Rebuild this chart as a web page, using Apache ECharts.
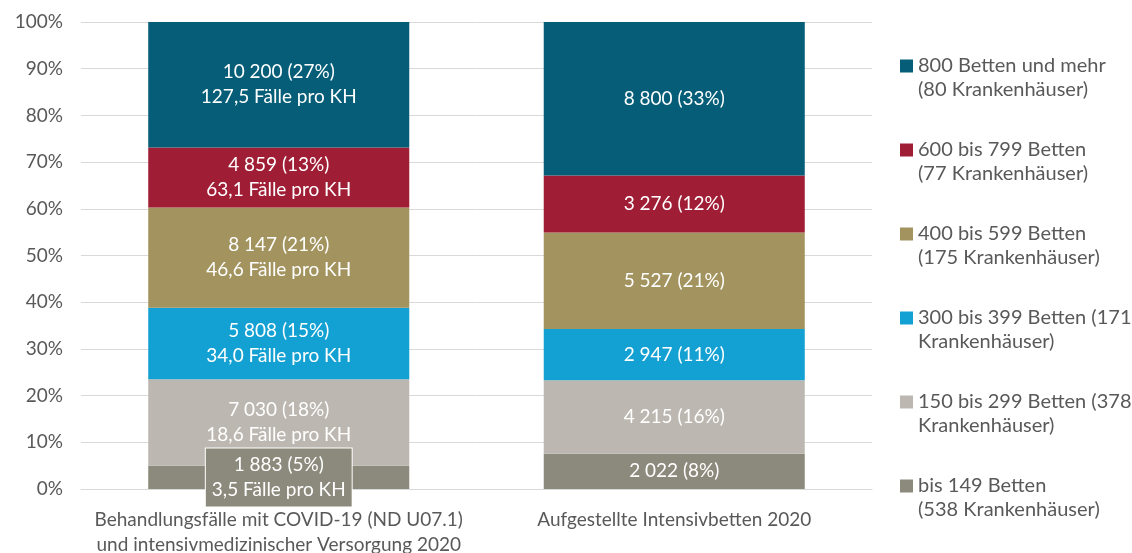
<!DOCTYPE html>
<html>
<head>
<meta charset="utf-8">
<script src="https://cdn.jsdelivr.net/npm/echarts@6/dist/echarts.min.js"></script>
<style>
  html, body { margin: 0; padding: 0; background: #fff; }
  #chart { width: 1132px; height: 553px; }
</style>
</head>
<body>
<div id="chart"></div>
<script>
// categories on the x axis
const categories = [
  "Behandlungsfälle mit COVID-19 (ND U07.1)\nund intensivmedizinischer Versorgung 2020",
  "Aufgestellte Intensivbetten 2020"
];
// size classes, bottom to top
const seriesNames = [
  "bis 149 Betten\n(538 Krankenhäuser)",
  "150 bis 299 Betten (378\nKrankenhäuser)",
  "300 bis 399 Betten (171\nKrankenhäuser)",
  "400 bis 599 Betten\n(175 Krankenhäuser)",
  "600 bis 799 Betten\n(77 Krankenhäuser)",
  "800 Betten und mehr\n(80 Krankenhäuser)"
];
const colors = ["#8c8a7c", "#bcb8b1", "#13a0d2", "#a3945f", "#a01e35", "#055d78"];
// absolute numbers per class: [Behandlungsfälle, Intensivbetten]
const cases = [1883, 7030, 5808, 8147, 4859, 10200];
const beds = [2022, 4215, 2947, 5527, 3276, 8800];
// shares shown in labels
const casesPct = [5, 18, 15, 21, 13, 27];
const bedsPct = [8, 16, 11, 21, 12, 33];
// Fälle pro KH
const perKH = ["3,5", "18,6", "34,0", "46,6", "63,1", "127,5"];
const yTicks = [0, 10, 20, 30, 40, 50, 60, 70, 80, 90, 100];

const fontFamily = "Lato, 'Open Sans', sans-serif";
const textColor = "#595959";

const sum = arr => arr.reduce((a, b) => a + b, 0);
const totalCases = sum(cases);
const totalBeds = sum(beds);
const fmt = n => String(n).replace(/\B(?=(\d{3})+(?!\d))/g, " ");

const series = seriesNames.map((name, i) => {
  const caseLabel = {
    formatter: fmt(cases[i]) + " (" + casesPct[i] + "%)\n" + perKH[i] + " Fälle pro KH"
  };
  if (i === 0) {
    // small segment: label in a box
    Object.assign(caseLabel, {
      backgroundColor: colors[0],
      borderColor: "#fff",
      borderWidth: 1,
      padding: [5, 6, 3, 6]
    });
  }
  return {
    name: name,
    type: "bar",
    stack: "total",
    barWidth: "66%",
    itemStyle: { color: colors[i] },
    label: {
      show: true,
      position: "inside",
      color: "#fff",
      fontFamily: fontFamily,
      fontSize: 19,
      lineHeight: 25
    },
    data: [
      { value: cases[i] / totalCases * 100, label: caseLabel },
      { value: beds[i] / totalBeds * 100, label: { formatter: fmt(beds[i]) + " (" + bedsPct[i] + "%)" } }
    ]
  };
});

const chart = echarts.init(document.getElementById("chart"));
chart.setOption({
  animation: false,
  color: colors,
  grid: { left: 81, right: 260, top: 22, bottom: 64, outerBoundsMode: "none", containLabel: false },
  legend: {
    orient: "vertical",
    left: 900,
    top: 30,
    padding: 0,
    data: seriesNames.slice().reverse(),
    icon: "rect",
    itemWidth: 13,
    itemHeight: 13,
    itemGap: 12,
    selectedMode: false,
    // empty first line so the square sits next to the first text line
    formatter: name => "\n" + name,
    textStyle: {
      color: textColor,
      fontFamily: fontFamily,
      fontSize: 20,
      lineHeight: 24
    }
  },
  xAxis: {
    type: "category",
    data: categories,
    axisLine: { lineStyle: { color: "#d9d9d9" } },
    axisTick: { show: false },
    axisLabel: {
      interval: 0,
      color: textColor,
      fontFamily: fontFamily,
      fontSize: 19,
      lineHeight: 25,
      margin: 18
    }
  },
  yAxis: {
    type: "value",
    min: yTicks[0],
    max: yTicks[yTicks.length - 1],
    interval: 10,
    axisLine: { show: false },
    axisTick: { show: false },
    splitLine: { lineStyle: { color: "#d9d9d9" } },
    axisLabel: {
      color: textColor,
      fontFamily: fontFamily,
      fontSize: 19,
      margin: 18,
      formatter: "{value}%"
    }
  },
  series: series
});
</script>
</body>
</html>
